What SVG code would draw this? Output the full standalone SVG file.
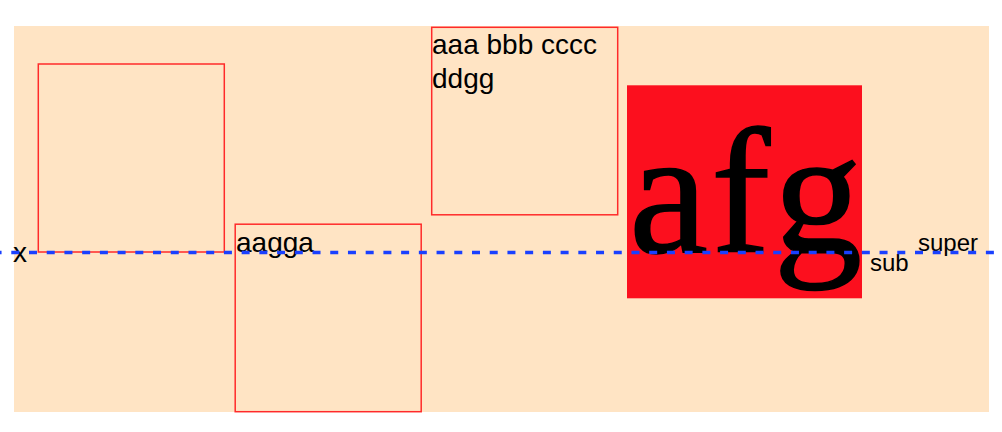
<svg xmlns="http://www.w3.org/2000/svg" width="1002" height="432" viewBox="0 0 1002 432">
  <style>
    .box { fill: none; stroke: #ff2a2a; stroke-width: 1.5; }
    .sans { font-family: "Liberation Sans", Arial, sans-serif; fill: #000; }
    .serif { font-family: "Liberation Serif", "Times New Roman", serif; fill: #000; }
  </style>
  <rect x="0" y="0" width="1002" height="432" fill="#ffffff"/>
  <g id="background">
    <rect x="14" y="26" width="975" height="386" fill="#ffe4c4"/>
  </g>
  <g id="label-x">
    <text class="sans" x="13" y="262" font-size="28">x</text>
  </g>
  <g id="box1">
    <rect class="box" x="38.3" y="64" width="186" height="188"/>
  </g>
  <g id="box2">
    <rect class="box" x="235.2" y="224.2" width="186" height="187.5"/>
    <text class="sans" x="236" y="252" font-size="28">aagga</text>
  </g>
  <g id="box3">
    <rect class="box" x="431.7" y="27.3" width="186" height="187.5"/>
    <text class="sans" x="432" y="54" font-size="28">aaa bbb cccc</text>
    <text class="sans" x="432" y="88" font-size="28">ddgg</text>
  </g>
  <g id="afg-block">
    <rect x="627" y="85.3" width="235" height="213" fill="#fc0f1e"/>
    <text class="serif" x="629" y="252" font-size="178" letter-spacing="3" stroke="#000" stroke-width="1.5">afg</text>
  </g>
  <g id="label-sub">
    <text class="sans" x="870" y="271" font-size="24">sub</text>
  </g>
  <g id="label-super">
    <text class="sans" x="918" y="251" font-size="24">super</text>
  </g>
  <g id="connectors">
    <line x1="-6.44" y1="252.5" x2="1010" y2="252.5" stroke="#1a40ff" stroke-width="3.5" stroke-dasharray="8 9.72"/>
  </g>
</svg>
